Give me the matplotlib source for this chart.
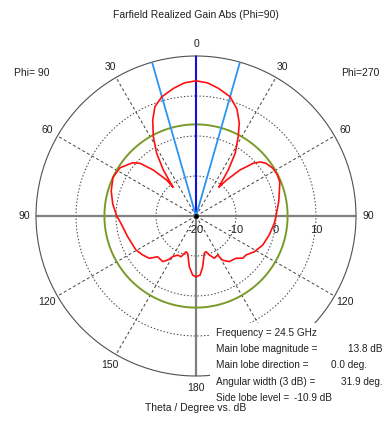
import numpy as np
import matplotlib
matplotlib.use("Agg")
import matplotlib.pyplot as plt
from matplotlib.transforms import offset_copy
from matplotlib.patches import Rectangle

plt.rcParams['font.family'] = ['Liberation Sans', 'DejaVu Sans']

# ---- data (theta in degrees, negative = left side / Phi=90) ----
theta_deg = [-180, -176.8, -172.5, -167.4, -164.4, -159.8, -154.9, -150.2, -147.3, -143.9,
             -136.7, -132.2, -126.2, -119.5, -106.8, -95.6, -90, -82, -73.6, -65,
             -57.6, -50, -46.7, -42.9, -39.2, -38.6, -38.1, -35.4, -32.1, -28.3,
             -24.3, -20.6, -16, -10, -5, 0, 5, 10, 16, 21,
             25, 28, 32, 35, 37.7, 38.4, 40.4, 43.7, 47.4, 50,
             53, 58, 63, 68, 73, 80, 90, 95, 104.5, 113.5,
             121.5, 128, 132, 136.6, 144, 149, 151, 156.6, 161, 164.4,
             167.4, 172.5, 176, 180]
gain_db = [-4.8, -5.2, -7.2, -10.45, -10.7, -9.15, -9.2, -8.3, -6.9, -5.9,
           -6.0, -4.25, -3.5, -2.75, -2.15, -1.15, -0.2, 1.0, 2.1, 2.9,
           2.5, 0.7, -0.8, -4.3, -8.4, -10.8, -10.2, -5.9, -1.5, 2.5,
           6.3, 9.2, 11.0, 12.4, 13.4, 13.8, 13.4, 12.4, 11.0, 8.6,
           5.6, 2.5, -1.5, -5.9, -10.2, -10.8, -8.2, -4.1, -0.5, 1.0,
           1.9, 2.6, 2.8, 2.6, 1.8, 1.0, 0.0, -0.3, -1.1, -1.8,
           -2.9, -4.15, -4.25, -5.45, -5.9, -7.1, -8.85, -8.5, -9.7, -10.75,
           -10.45, -7.2, -5.2, -4.8]

main_lobe_dir = 0.0
beam_width = 31.9
side_lobe_level_abs = 2.9          # 13.8 dB - 10.9 dB
r_min, r_max = -20, 20
r_ticks = [-20, -10, 0, 10]
# right-hand 150 label is hidden behind the info box in the reference
angle_ticks = [0, 30, 60, 90, 120, 180, -30, -60, -90, -120, -150]
angle_labels = ['0', '30', '60', '90', '120', '180', '30', '60', '90', '120', '150']

info_labels = ['Frequency = 24.5 GHz', 'Main lobe magnitude =', 'Main lobe direction =',
               'Angular width (3 dB) =', 'Side lobe level =']
info_values = ['', '13.8 dB', '0.0 deg.', '31.9 deg.', '-10.9 dB']

W, H = 385, 425
fig = plt.figure(figsize=(W / 100, H / 100), dpi=100)
cx, cy, R = 196, 216, 160
ax = fig.add_axes([(cx - R) / W, (H - cy - R) / H, 2 * R / W, 2 * R / H], projection='polar')
ax.set_theta_zero_location('N')
ax.set_theta_direction(-1)
ax.set_ylim(r_min, r_max)
ax.grid(False)
ax.set_xticks([])
ax.set_yticks([])
ax.spines['polar'].set_color('#505050')
ax.spines['polar'].set_linewidth(0.8)

full = np.linspace(0, 2 * np.pi, 361)
for rv in r_ticks[1:]:
    ax.plot(full, np.full_like(full, rv), color='#404040', lw=0.7, ls=(0, (1.5, 2)), zorder=1)
for a in [30, 60, 120, 150, -30, -60, -120, -150]:
    ax.plot([np.deg2rad(a)] * 2, [r_min, r_max], color='#404040', lw=0.7, ls=(0, (3, 2.5)), zorder=1)
ax.plot([np.deg2rad(-90)] * 2, [r_max, r_min], color='#808080', lw=1.6, zorder=2)
ax.plot([np.deg2rad(90)] * 2, [r_min, r_max], color='#808080', lw=1.6, zorder=2)
ax.plot([np.pi, np.pi], [r_min, r_max], color='#808080', lw=1.6, zorder=2)

ax.plot(full, np.full_like(full, side_lobe_level_abs), color='#7a9a2a', lw=1.4, zorder=3)

ax.plot([np.deg2rad(main_lobe_dir)] * 2, [r_min, r_max], color='#1010e0', lw=1.5, zorder=4)
for s in (-1, 1):
    a = np.deg2rad(main_lobe_dir + s * beam_width / 2)
    ax.plot([a, a], [r_min, r_max], color='#2a95f0', lw=1.3, zorder=4)

ax.plot(np.deg2rad(theta_deg), gain_db, color='#ff1010', lw=1.2, zorder=5)
ax.plot([0], [r_min], 'o', color='black', ms=2.5, zorder=6)

for a, lab in zip(angle_ticks, angle_labels):
    ax.text(np.deg2rad(a), 23.0, lab, ha='center', va='center', fontsize=7.5,
            color='#202020', clip_on=False)

tr = offset_copy(ax.transData, fig=fig, x=0, y=-14, units='dots')
for rv in r_ticks:
    ax.text(np.deg2rad(90), rv, str(rv), transform=tr, ha='center', va='center',
            fontsize=8, color='#202020', clip_on=False)

def px(x, y):
    return x / W, 1 - y / H

# white info box covering the lower right of the plot
fig.patches.append(Rectangle(px(210, 403), (W - 210) / W, (403 - 323) / H,
                             transform=fig.transFigure, facecolor='white',
                             edgecolor='none', zorder=10))

kw = dict(fontsize=7.5, color='#202020', zorder=11)
fig.text(*px(196, 15), 'Farfield Realized Gain Abs (Phi=90)', ha='center', va='center', **kw)
fig.text(*px(14, 73), 'Phi= 90', ha='left', va='center', **kw)
fig.text(*px(379, 73), 'Phi=270', ha='right', va='center', **kw)
fig.text(*px(196, 408), 'Theta / Degree vs. dB', ha='center', va='center', **kw)

ys = [333, 349.5, 365.5, 382, 398]
vpos = [(0, 'left'), (383, 'right'), (331, 'left'), (383, 'right'), (294, 'left')]
bkw = dict(fontsize=7.2, color='#202020', zorder=11)
for lab, val, y, (x, ha) in zip(info_labels, info_values, ys, vpos):
    fig.text(*px(216, y), lab, ha='left', va='center', **bkw)
    if val:
        fig.text(*px(x, y), val, ha=ha, va='center', **bkw)

fig.savefig('out.png', dpi=100, facecolor='white')
